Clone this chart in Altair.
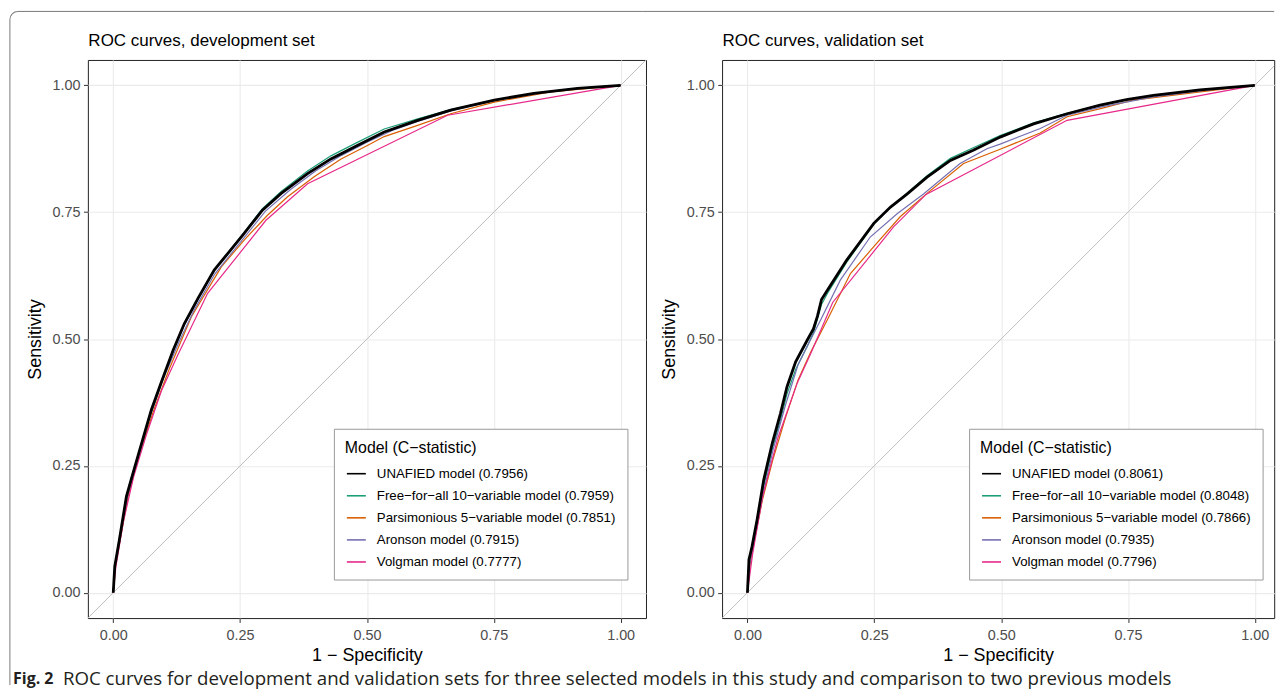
import altair as alt
import pandas as pd

FONT = "Liberation Sans"
CAP_FONT = "Open Sans"
MINUS = "\u2212"

# ---------------- Development set (1 - specificity, sensitivity) ----------------
dev_unafied_x = [0, 0.003, 0.012, 0.026, 0.035, 0.052, 0.075, 0.094, 0.118, 0.140, 0.167, 0.199, 0.226, 0.258, 0.294, 0.331, 0.383, 0.429, 0.482, 0.534, 0.600, 0.665, 0.751, 0.829, 0.915, 1.0]
dev_unafied_y = [0, 0.052, 0.104, 0.190, 0.222, 0.281, 0.360, 0.413, 0.478, 0.530, 0.580, 0.636, 0.669, 0.708, 0.754, 0.787, 0.826, 0.855, 0.882, 0.908, 0.931, 0.951, 0.971, 0.984, 0.994, 1.0]

dev_free_x = [0, 0.003, 0.012, 0.026, 0.035, 0.052, 0.075, 0.094, 0.118, 0.140, 0.167, 0.199, 0.226, 0.258, 0.294, 0.331, 0.383, 0.429, 0.482, 0.534, 0.600, 0.665, 0.751, 0.829, 0.915, 1.0]
dev_free_y = [0, 0.050, 0.101, 0.186, 0.219, 0.278, 0.357, 0.410, 0.476, 0.528, 0.579, 0.636, 0.670, 0.710, 0.757, 0.791, 0.831, 0.861, 0.888, 0.914, 0.934, 0.952, 0.971, 0.984, 0.994, 1.0]

dev_pars_x = [0, 0.005, 0.015, 0.030, 0.050, 0.080, 0.110, 0.154, 0.213, 0.258, 0.304, 0.343, 0.396, 0.449, 0.500, 0.534, 0.600, 0.665, 0.751, 0.862, 1.0]
dev_pars_y = [0, 0.058, 0.112, 0.193, 0.268, 0.360, 0.440, 0.544, 0.642, 0.695, 0.744, 0.780, 0.820, 0.855, 0.881, 0.899, 0.921, 0.944, 0.967, 0.987, 1.0]

dev_aron_x = [0, 0.004, 0.014, 0.028, 0.045, 0.070, 0.100, 0.130, 0.160, 0.200, 0.250, 0.300, 0.350, 0.400, 0.450, 0.500, 0.550, 0.600, 0.670, 0.750, 0.850, 0.930, 1.0]
dev_aron_y = [0, 0.055, 0.110, 0.190, 0.250, 0.340, 0.425, 0.495, 0.558, 0.628, 0.690, 0.752, 0.795, 0.832, 0.862, 0.888, 0.911, 0.929, 0.951, 0.970, 0.986, 0.995, 1.0]

dev_volg_x = [0, 0.005, 0.020, 0.040, 0.065, 0.095, 0.127, 0.186, 0.301, 0.383, 0.659, 1.0]
dev_volg_y = [0, 0.050, 0.140, 0.228, 0.310, 0.398, 0.468, 0.590, 0.734, 0.806, 0.941, 1.0]

# ---------------- Validation set ----------------
val_unafied_x = [0, 0.003, 0.009, 0.019, 0.032, 0.049, 0.065, 0.078, 0.095, 0.118, 0.130, 0.138, 0.146, 0.160, 0.196, 0.249, 0.282, 0.315, 0.354, 0.400, 0.445, 0.498, 0.564, 0.630, 0.695, 0.747, 0.800, 0.892, 1.0]
val_unafied_y = [0, 0.065, 0.091, 0.144, 0.222, 0.295, 0.353, 0.406, 0.455, 0.498, 0.520, 0.545, 0.578, 0.600, 0.656, 0.728, 0.760, 0.786, 0.819, 0.852, 0.872, 0.898, 0.924, 0.944, 0.961, 0.972, 0.980, 0.991, 1.0]

val_free_x = [0, 0.003, 0.009, 0.019, 0.032, 0.049, 0.065, 0.078, 0.095, 0.118, 0.130, 0.138, 0.146, 0.160, 0.196, 0.249, 0.282, 0.315, 0.354, 0.400, 0.445, 0.498, 0.564, 0.630, 0.695, 0.747, 0.800, 0.892, 1.0]
val_free_y = [0, 0.060, 0.085, 0.135, 0.210, 0.283, 0.340, 0.392, 0.440, 0.486, 0.512, 0.540, 0.568, 0.594, 0.652, 0.726, 0.760, 0.788, 0.822, 0.856, 0.877, 0.901, 0.926, 0.945, 0.961, 0.972, 0.980, 0.991, 1.0]

val_pars_x = [0, 0.005, 0.015, 0.030, 0.050, 0.075, 0.100, 0.125, 0.157, 0.203, 0.249, 0.301, 0.354, 0.426, 0.498, 0.577, 0.630, 0.700, 0.761, 0.892, 1.0]
val_pars_y = [0, 0.055, 0.110, 0.185, 0.262, 0.345, 0.420, 0.475, 0.537, 0.629, 0.682, 0.741, 0.787, 0.846, 0.874, 0.906, 0.938, 0.955, 0.971, 0.987, 1.0]

val_aron_x = [0, 0.005, 0.015, 0.030, 0.050, 0.075, 0.100, 0.120, 0.144, 0.183, 0.242, 0.295, 0.347, 0.419, 0.472, 0.498, 0.577, 0.630, 0.700, 0.800, 0.900, 1.0]
val_aron_y = [0, 0.060, 0.110, 0.190, 0.280, 0.370, 0.450, 0.490, 0.537, 0.616, 0.701, 0.747, 0.786, 0.846, 0.875, 0.884, 0.915, 0.941, 0.958, 0.977, 0.990, 1.0]

val_volg_x = [0, 0.010, 0.030, 0.060, 0.098, 0.125, 0.168, 0.288, 0.352, 0.630, 1.0]
val_volg_y = [0, 0.075, 0.190, 0.305, 0.413, 0.472, 0.572, 0.721, 0.785, 0.931, 1.0]

# ---------------- Labels / styling ----------------
model_names = ["UNAFIED model", f"Free{MINUS}for{MINUS}all 10{MINUS}variable model",
               f"Parsimonious 5{MINUS}variable model", "Aronson model", "Volgman model"]
dev_cstat = ["0.7956", "0.7959", "0.7851", "0.7915", "0.7777"]
val_cstat = ["0.8061", "0.8048", "0.7866", "0.7935", "0.7796"]
model_colors = ["#000000", "#1B9E77", "#D95F02", "#7570B3", "#E7298A"]
tick_values = [0, 0.25, 0.5, 0.75, 1.0]
panel_titles = ["ROC curves, development set", "ROC curves, validation set"]
legend_title = f"Model (C{MINUS}statistic)"
x_title = f"1 {MINUS} Specificity"
y_title = "Sensitivity"
caption_bold = "Fig. 2"
caption_text = ("ROC curves for development and validation sets for three selected models "
                "in this study and comparison to two previous models")

H = 559
W_LEFT = 559
W_RIGHT = 553          # the reference cuts the right panel slightly
SPACING = 76.2
PX_PER_UNIT = H / 1.1
BORDER = "#7a7a7a"


def build_df(series, cstats):
    rows = []
    labels = [f"{m} ({c})" for m, c in zip(model_names, cstats)]
    for lab, (xs, ys) in zip(labels, series):
        for i, (xv, yv) in enumerate(zip(xs, ys)):
            rows.append({"model": lab, "fpr": xv, "tpr": yv, "idx": i})
    return pd.DataFrame(rows), labels


def enc_x(xmax):
    return alt.X("fpr:Q", scale=alt.Scale(domain=[-0.05, xmax], nice=False, zero=False),
                 axis=alt.Axis(values=tick_values, format=".2f", title=x_title,
                               grid=True, gridColor="#EBEBEB", gridWidth=1.1, domain=False,
                               tickColor="#333333", tickSize=4.4, tickWidth=1,
                               labelFont=FONT, labelFontSize=14.4, labelColor="#4D4D4D",
                               labelPadding=6, labelFlush=False,
                               titleFont=FONT, titleFontSize=17.9, titleFontWeight="normal",
                               titleColor="#000000", titlePadding=4.5))


def enc_y():
    return alt.Y("tpr:Q", scale=alt.Scale(domain=[-0.05, 1.05], nice=False, zero=False),
                 axis=alt.Axis(values=tick_values, format=".2f", title=y_title,
                               grid=True, gridColor="#EBEBEB", gridWidth=1.1, domain=False,
                               tickColor="#333333", tickSize=4.4, tickWidth=1,
                               labelFont=FONT, labelFontSize=14.4, labelColor="#4D4D4D",
                               labelPadding=3.5, labelFlush=False,
                               titleFont=FONT, titleFontSize=17.9, titleFontWeight="normal",
                               titleColor="#000000", titlePadding=7.3))


one_row = pd.DataFrame({"k": [0]})


def panel(series, cstats, title, left_panel, legend_x, width):
    xmax = -0.05 + width / PX_PER_UNIT
    df, labels = build_df(series, cstats)
    diag = alt.Chart(pd.DataFrame({"fpr": [-0.05, 1.05], "tpr": [-0.05, 1.05]})).mark_line(
        color="#BEBEBE", strokeWidth=1, clip=True).encode(x=enc_x(xmax), y=enc_y())
    lines = alt.Chart(df).mark_line(strokeWidth=1.2, clip=True).encode(
        x=enc_x(xmax), y=enc_y(),
        color=alt.Color("model:N", sort=labels,
                        scale=alt.Scale(domain=labels, range=model_colors),
                        legend=alt.Legend(title=legend_title, orient="none",
                                          legendX=legend_x, legendY=369.4,
                                          fillColor="#FFFFFF", strokeColor="#9a9a9a",
                                          padding=11, symbolType="stroke", symbolSize=361,
                                          symbolStrokeWidth=1.6, symbolOffset=1,
                                          labelOffset=10, rowPadding=5.1, titlePadding=7.6,
                                          labelFont=FONT, labelFontSize=13.3, labelColor="#000000",
                                          labelLimit=400,
                                          titleFont=FONT, titleFontSize=15.9,
                                          titleFontWeight="normal", titleColor="#000000",
                                          titleLimit=400)),
        order="idx:Q")
    black = alt.Chart(df[df["model"] == labels[0]]).mark_line(
        strokeWidth=2.8, color="#000000", clip=True).encode(x=enc_x(xmax), y=enc_y(), order="idx:Q")
    ttl = alt.Chart(one_row).mark_text(
        text=title, font=FONT, fontSize=17, color="#000000", align="left",
        baseline="alphabetic").encode(x=alt.value(0.5), y=alt.value(-13.9))

    layers = [diag, lines, black, ttl]
    if left_panel:
        vline = alt.Chart(one_row).mark_rule(color=BORDER, strokeWidth=1).encode(
            x=alt.value(-78.1), y=alt.value(-40.6), y2=alt.value(626))
        hline = alt.Chart(one_row).mark_rule(color=BORDER, strokeWidth=1).encode(
            x=alt.value(-70.1), x2=alt.value(W_LEFT + SPACING - 80), y=alt.value(-48.6))
        corner = alt.Chart(one_row).mark_arc(color=BORDER).encode(
            x=alt.value(-70.1), y=alt.value(-40.6),
            theta=alt.value(4.7124), theta2=alt.value(6.2832),
            radius=alt.value(8.5), radius2=alt.value(7.5))
        cap1 = alt.Chart(one_row).mark_text(
            text=caption_bold, font=CAP_FONT, fontSize=16, fontWeight="bold",
            color="#231F20", align="left", baseline="middle").encode(
            x=alt.value(-75), y=alt.value(620.5))
        cap2 = alt.Chart(one_row).mark_text(
            text=caption_text, font=CAP_FONT, fontSize=18.7,
            color="#231F20", align="left", baseline="middle").encode(
            x=alt.value(-25), y=alt.value(620.5))
        layers += [vline, hline, corner, cap1, cap2]
    else:
        hline = alt.Chart(one_row).mark_rule(color=BORDER, strokeWidth=1).encode(
            x=alt.value(-80), x2=alt.value(width), y=alt.value(-48.6))
        layers += [hline]

    return alt.layer(*layers).properties(width=width, height=H)


dev_series = [(dev_unafied_x, dev_unafied_y), (dev_free_x, dev_free_y), (dev_pars_x, dev_pars_y),
              (dev_aron_x, dev_aron_y), (dev_volg_x, dev_volg_y)]
val_series = [(val_unafied_x, val_unafied_y), (val_free_x, val_free_y), (val_pars_x, val_pars_y),
              (val_aron_x, val_aron_y), (val_volg_x, val_volg_y)]

left = panel(dev_series, dev_cstat, panel_titles[0], True, 246.4, W_LEFT)
right = panel(val_series, val_cstat, panel_titles[1], False, 247.4, W_RIGHT)

chart = alt.hconcat(left, right, spacing=SPACING, bounds="flush").resolve_scale(
    color="independent").resolve_legend(color="independent").properties(
    padding={"left": 0, "top": 1.5, "right": 0, "bottom": 0}
).configure_view(stroke="#222222", strokeWidth=1)

chart.save("out.html", embed_options={"renderer": "svg", "actions": False})
